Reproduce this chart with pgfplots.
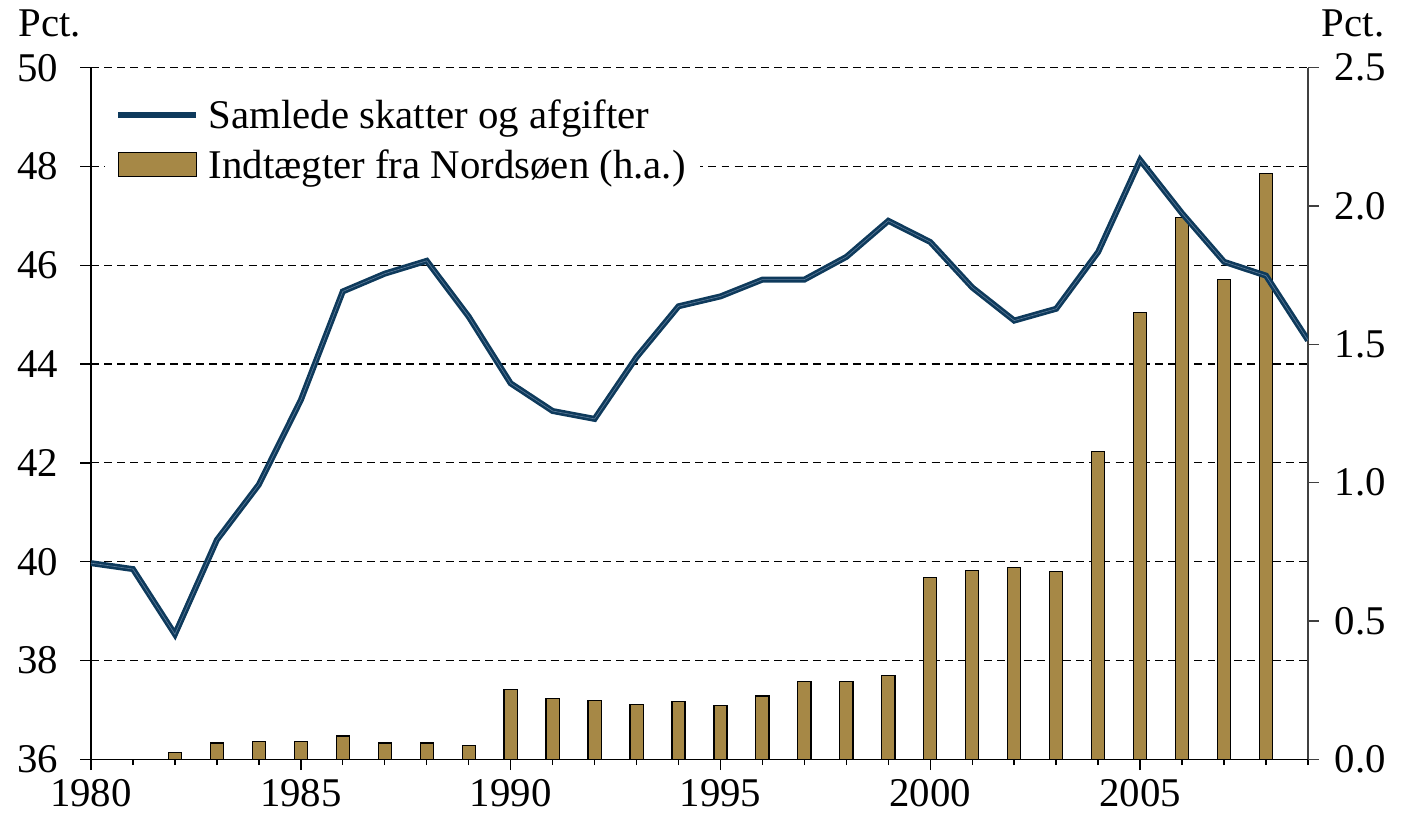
\documentclass[border=0pt]{standalone}
\usepackage{pgfplots}
\pgfplotsset{compat=1.18}
\usepackage{pgfplotstable}
\usepackage{fontspec}
\setmainfont{Liberation Serif}
\definecolor{linecol}{RGB}{14,58,92}
\definecolor{linelight}{RGB}{95,125,155}
\definecolor{barcol}{RGB}{166,136,70}
\definecolor{raxis}{RGB}{64,64,64}

\pgfplotstableread{
year value
1980 39.97
1981 39.85
1982 38.53
1983 40.44
1984 41.56
1985 43.27
1986 45.47
1987 45.83
1988 46.09
1989 44.96
1990 43.61
1991 43.05
1992 42.89
1993 44.14
1994 45.17
1995 45.37
1996 45.71
1997 45.71
1998 46.17
1999 46.90
2000 46.47
2001 45.55
2002 44.88
2003 45.12
2004 46.27
2005 48.13
2006 47.05
2007 46.07
2008 45.79
2009 44.48
}\taxes

\pgfplotstableread{
year value
1982 0.025
1983 0.059
1984 0.064
1985 0.064
1986 0.084
1987 0.059
1988 0.059
1989 0.050
1990 0.251
1991 0.219
1992 0.213
1993 0.198
1994 0.209
1995 0.193
1996 0.229
1997 0.282
1998 0.282
1999 0.302
2000 0.658
2001 0.683
2002 0.694
2003 0.680
2004 1.112
2005 1.615
2006 1.957
2007 1.734
2008 2.116
}\northsea

\newcommand{\fs}{\fontsize{20.5}{24}\selectfont}

\pgfplotsset{
  lineleg/.style={legend image code/.code={\draw[##1] (0pt,0.3pt) -- (39pt,0.3pt);}},
  barleg/.style={legend image code/.code={\draw[##1] (0pt,-5.5pt) rectangle (39.5pt,6.5pt);}},
  common/.style={
    width=611.5pt, height=347.5pt, scale only axis,
    xmin=1980, xmax=2009,
    tick label style={font=\fs},
    tick align=outside,
    major tick length=5.5pt, minor tick length=3pt,
  }
}

\begin{document}
\begin{tikzpicture}
% Left axis with grid
\begin{axis}[common,
  ymin=36, ymax=50,
  axis x line*=bottom, axis y line*=left,
  xtick={1980,1985,...,2005},
  xticklabels={1980,1985,1990,1995,2000,2005},
  minor xtick={1980,...,2009},
  xticklabel style={inner sep=1pt, yshift=-3.5pt},
  ytick={36,38,...,50},
  yticklabels={36,38,40,42,44,46,48,50},
  yticklabel style={xshift=-7.5pt},
  ymajorgrids,
  major grid style={black, line width=0.6pt, dash pattern=on 4pt off 2.6pt},
  axis line style={black, line width=0.7pt},
  tick style={black, line width=0.7pt},
]
\addplot[draw=none, forget plot] coordinates {(1980,36)};
\end{axis}
% Right axis with bars
\begin{axis}[common,
  ymin=0, ymax=2.5,
  axis y line*=right, axis x line=none,
  ytick={0,0.5,...,2.5},
  yticklabels={0.0,0.5,1.0,1.5,2.0,2.5},
  yticklabel style={xshift=4.5pt},
  axis line style={raxis, line width=0.7pt},
  ytick style={raxis, line width=0.7pt},
]
\addplot[ybar, bar width=6.6pt, fill=barcol, draw=black, line width=0.6pt] table[x=year, y=value] {\northsea};
\end{axis}
% Line on top, legend
\begin{axis}[common,
  ymin=36, ymax=50,
  hide axis,
  legend cell align=left,
  legend style={
    at={(rel axis cs:0.0114,0.968)}, anchor=north west,
    draw=none, fill=white,
    font=\fs,
    inner xsep=5pt, inner ysep=3pt,
    row sep=5pt,
    /tikz/every odd column/.append style={column sep=3pt},
  },
]
\addlegendimage{lineleg, draw=linecol, line width=3pt}
\addlegendentry{Samlede skatter og afgifter}
\addlegendimage{barleg, fill=barcol, draw=black, line width=0.6pt}
\addlegendentry{Indtægter fra Nordsøen (h.a.)}
\addplot[draw=linecol, line width=3pt, line join=miter, forget plot] table[x=year, y=value] {\taxes};
\addplot[draw=linelight, line width=0.3pt, forget plot] table[x=year, y=value] {\taxes};
\end{axis}
\node[anchor=base west, font=\fs, inner sep=0pt] at (-36.5pt,363pt) {Pct.};
\node[anchor=base east, font=\fs, inner sep=0pt] at (650pt,363pt) {Pct.};
\pgfresetboundingbox
\useasboundingbox (-45.72pt,-28.5pt) rectangle (658.72pt,381.5pt);
\end{tikzpicture}
\end{document}
